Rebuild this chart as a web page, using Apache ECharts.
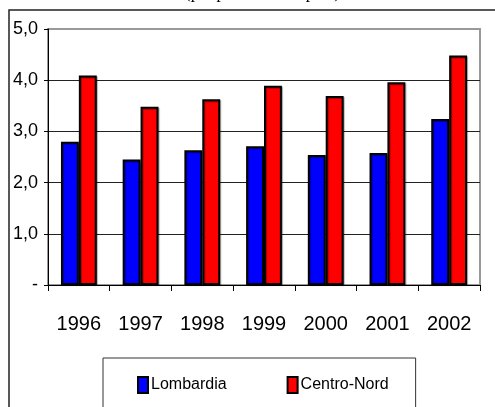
<!DOCTYPE html>
<html>
<head>
<meta charset="utf-8">
<script src="https://cdn.jsdelivr.net/npm/echarts@6/dist/echarts.min.js"></script>
<style>
  html, body { margin: 0; padding: 0; background: #fff; }
  #chart { width: 495px; height: 407px; }
</style>
</head>
<body>
<div id="chart"></div>
<script>
// dati
const anni = ['1996', '1997', '1998', '1999', '2000', '2001', '2002']
const lombardia = [2.8, 2.45, 2.63, 2.71, 2.54, 2.58, 3.24]
const centroNord = [4.09, 3.48, 3.63, 3.89, 3.69, 3.96, 4.48]
const nomiSerie = ['Lombardia', 'Centro-Nord']

const sans = "'Liberation Sans', Arial, sans-serif"

const chart = echarts.init(document.getElementById('chart'))

const barStyle = (color) => ({
  color: color,
  borderColor: '#000',
  borderWidth: 2,
  shadowColor: 'rgba(0,0,0,0.35)',
  shadowOffsetX: 1,
  shadowOffsetY: 1,
  shadowBlur: 1,
})

const option = {
  backgroundColor: '#fff',
  animation: false,
  title: {
    text: '(per persona occupata)',
    left: 180,
    top: -20,
    textStyle: {
      fontFamily: "'Liberation Serif', serif",
      fontWeight: 'normal',
      fontSize: 17,
      color: '#000',
    },
  },
  graphic: [
    {
      type: 'rect',
      shape: { x: 9, y: 10, width: 500, height: 420 },
      style: { fill: 'none', stroke: '#222', lineWidth: 1.5 },
      silent: true,
    },
  ],
  grid: {
    left: 48,
    right: 15,
    top: 29,
    bottom: 122,
    show: true,
    borderColor: '#999',
    borderWidth: 2,
  },
  legend: {
    data: nomiSerie,
    left: 103,
    top: 358,
    padding: [18, 27, 30, 34],
    itemGap: 60,
    itemWidth: 10,
    itemHeight: 16,
    icon: 'rect',
    borderColor: '#333',
    borderWidth: 1,
    textStyle: {
      fontFamily: sans,
      fontSize: 16,
      color: '#000',
      padding: [0, 0, 0, -2],
    },
  },
  xAxis: {
    type: 'category',
    data: anni,
    axisLine: { lineStyle: { color: '#000', width: 1 } },
    axisTick: { show: true, length: 6, lineStyle: { color: '#000' } },
    axisLabel: {
      interval: 0,
      margin: 29,
      fontFamily: sans,
      fontSize: 20,
      color: '#000',
    },
  },
  yAxis: {
    type: 'value',
    min: 0,
    max: 5,
    interval: 1,
    axisLine: { show: true, lineStyle: { color: '#000', width: 1 } },
    axisTick: { show: true, length: 4, lineStyle: { color: '#000' } },
    splitLine: {
      lineStyle: {
        color: ['#222', '#222', '#222', '#222', '#222', '#999'],
        width: 1,
      },
    },
    axisLabel: {
      margin: 10,
      fontFamily: sans,
      fontSize: 18,
      color: '#000',
      formatter: (v) => (v === 0 ? '-' : v.toFixed(1).replace('.', ',')),
    },
  },
  series: [
    {
      name: nomiSerie[0],
      type: 'bar',
      data: lombardia,
      barGap: '0%',
      barCategoryGap: '42%',
      itemStyle: barStyle('#0000ff'),
    },
    {
      name: nomiSerie[1],
      type: 'bar',
      data: centroNord,
      barGap: '0%',
      barCategoryGap: '42%',
      itemStyle: barStyle('#ff0000'),
    },
  ],
}

chart.setOption(option)
</script>
</body>
</html>
